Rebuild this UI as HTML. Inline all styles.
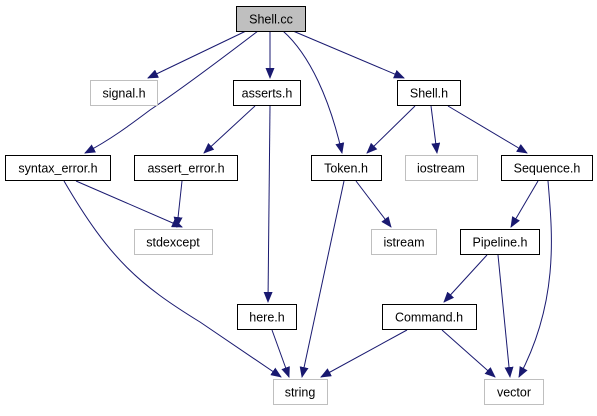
<!DOCTYPE html>
<html><head><style>body{margin:0;background:#fff}</style></head><body>
<svg width="597" height="411" viewBox="0 0 597 411" xmlns="http://www.w3.org/2000/svg" font-family="Liberation Sans, sans-serif" font-size="12.5">
<defs><marker id="a" markerWidth="11" markerHeight="9" refX="10" refY="4.5" orient="auto" markerUnits="userSpaceOnUse"><path d="M0,0 L11,4.5 L0,9 Z" fill="#191970"/></marker></defs>
<g fill="none" stroke="#191970" stroke-width="1" marker-end="url(#a)">
<path d="M246,31 L148,78"/>
<path d="M258,31 C220,60 180,90 150,110 C130,125 110,140 85,153"/>
<path d="M270,31 L270,78"/>
<path d="M283,31 C310,55 330,100 342,153"/>
<path d="M293,31 L404,78"/>
<path d="M255,106 L204,153"/>
<path d="M270,106 L268,302"/>
<path d="M415,106 L367,153"/>
<path d="M431,106 L437,153"/>
<path d="M448,106 L527,153"/>
<path d="M76,181 L182,227"/>
<path d="M64,181 C110,260 140,285 200,322 L281,377"/>
<path d="M182,181 L177,227"/>
<path d="M356,181 L391,227"/>
<path d="M344,181 L302,377"/>
<path d="M538,181 L511,227"/>
<path d="M548,181 C552,230 560,300 519,377"/>
<path d="M487,255 L444,302"/>
<path d="M498,255 L510,377"/>
<path d="M272,330 L289,377"/>
<path d="M407,330 L321,377"/>
<path d="M442,330 L495,377"/>
</g>
<g stroke-width="1">
<rect x="236.5" y="6.5" width="69" height="25" fill="#bfbfbf" stroke="#000"/>
<rect x="90.5" y="80.5" width="67" height="25" fill="#fff" stroke="#bfbfbf"/>
<rect x="233.5" y="80.5" width="67" height="25" fill="#fff" stroke="#000"/>
<rect x="397.5" y="80.5" width="63" height="25" fill="#fff" stroke="#000"/>
<rect x="5.5" y="155.5" width="105" height="25" fill="#fff" stroke="#000"/>
<rect x="134.5" y="155.5" width="103" height="25" fill="#fff" stroke="#000"/>
<rect x="311.5" y="155.5" width="70" height="25" fill="#fff" stroke="#000"/>
<rect x="405.5" y="155.5" width="72" height="25" fill="#fff" stroke="#bfbfbf"/>
<rect x="501.5" y="155.5" width="91" height="25" fill="#fff" stroke="#000"/>
<rect x="134.5" y="229.5" width="78" height="25" fill="#fff" stroke="#bfbfbf"/>
<rect x="371.5" y="229.5" width="65" height="25" fill="#fff" stroke="#bfbfbf"/>
<rect x="460.5" y="229.5" width="79" height="25" fill="#fff" stroke="#000"/>
<rect x="237.5" y="304.5" width="59" height="25" fill="#fff" stroke="#000"/>
<rect x="382.5" y="304.5" width="94" height="25" fill="#fff" stroke="#000"/>
<rect x="273.5" y="379.5" width="54" height="25" fill="#fff" stroke="#bfbfbf"/>
<rect x="484.5" y="379.5" width="59" height="25" fill="#fff" stroke="#bfbfbf"/>
</g>
<g text-anchor="middle" fill="#000">
<text x="271" y="23.5">Shell.cc</text>
<text x="124" y="97.5">signal.h</text>
<text x="267" y="97.5">asserts.h</text>
<text x="429" y="97.5">Shell.h</text>
<text x="58" y="172.5">syntax_error.h</text>
<text x="186" y="172.5">assert_error.h</text>
<text x="346" y="172.5">Token.h</text>
<text x="441" y="172.5">iostream</text>
<text x="547" y="172.5">Sequence.h</text>
<text x="173" y="246.5">stdexcept</text>
<text x="404" y="246.5">istream</text>
<text x="500" y="246.5">Pipeline.h</text>
<text x="267" y="321.5">here.h</text>
<text x="429" y="321.5">Command.h</text>
<text x="300" y="396.5">string</text>
<text x="514" y="396.5">vector</text>
</g>
</svg>
</body></html>
